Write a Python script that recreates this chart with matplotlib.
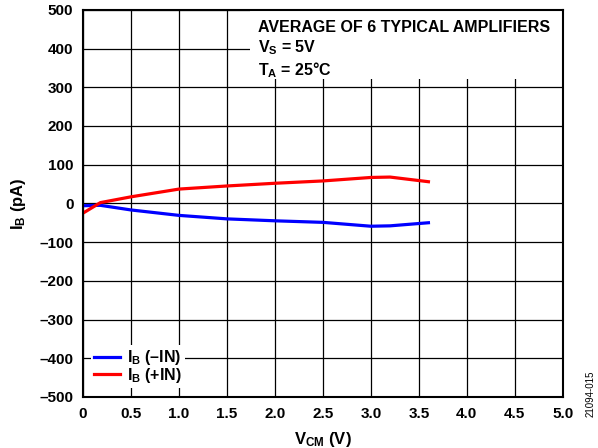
import matplotlib
matplotlib.use("Agg")
import matplotlib.pyplot as plt
import numpy as np

plt.rcParams["font.family"] = ["Liberation Sans", "DejaVu Sans"]
plt.rcParams["font.weight"] = "bold"
plt.rcParams["mathtext.fontset"] = "custom"
plt.rcParams["mathtext.rm"] = "Liberation Sans:bold"
plt.rcParams["mathtext.bf"] = "Liberation Sans:bold"
plt.rcParams["mathtext.it"] = "Liberation Sans:bold"

# V_CM (V)
vcm = [0.0, 0.18, 0.5, 1.0, 1.5, 2.0, 2.5, 3.0, 3.2, 3.6]
ib_neg = [-6, -5, -17, -31, -40, -45, -49, -59, -58, -50]
ib_pos = [-25, 2, 17, 37, 45, 52, 58, 67, 68, 56]

xticks = np.arange(0, 5.01, 0.5)
yticks = np.arange(-500, 501, 100)

fig = plt.figure(figsize=(5.98, 4.48), dpi=100)
ax = fig.add_axes([0.139, 0.114, 0.802, 0.864])

ax.plot(vcm, ib_neg, color="#0000ff", linewidth=2.3, label=r"$\mathregular{I_B}$ (–IN)", zorder=3)
ax.plot(vcm, ib_pos, color="#ff0000", linewidth=2.3, label=r"$\mathregular{I_B}$ (+IN)", zorder=3)

ax.set_xlim(0, 5)
ax.set_ylim(-500, 500)
ax.set_xticks(xticks)
ax.set_yticks(yticks)
ax.set_xticklabels(["0"] + [f"{v:.1f}" for v in xticks[1:]], fontsize=11, fontweight="bold")
ax.set_yticklabels([f"{v:d}".replace("-", "–") for v in yticks], fontsize=11, fontweight="bold")
ax.tick_params(length=0, pad=7)
ax.grid(True, color="black", linewidth=0.9)
for s in ax.spines.values():
    s.set_linewidth(1.5)
    s.set_zorder(6)

ax.set_xlabel(r"$\mathregular{V_{CM}}$ (V)", fontsize=12, fontweight="bold", labelpad=7)
ax.set_ylabel(r"$\mathregular{I_B}$ (pA)", fontsize=12, fontweight="bold", labelpad=8)

# white patch behind the notes, reaching the right spine
ax.add_patch(plt.Rectangle((0.348, 0.822), 0.652, 0.178, transform=ax.transAxes,
                           facecolor="white", edgecolor="none", zorder=2.6))
ax.text(0.365, 0.973,
        "AVERAGE OF 6 TYPICAL AMPLIFIERS\n" + r"$\mathregular{V_S}$ = 5V" + "\n" + r"$\mathregular{T_A}$ = 25°C",
        transform=ax.transAxes, ha="left", va="top", fontsize=11.5, fontweight="bold",
        linespacing=1.2, zorder=4)

leg = ax.legend(loc="lower left", bbox_to_anchor=(0.0, 0.003), frameon=True, fancybox=False,
                edgecolor="none", framealpha=1, fontsize=11.5, handlelength=1.6,
                borderpad=0.2, labelspacing=-0.1, handletextpad=0.45)
leg.set_zorder(5)

fig.text(0.987, 0.12, "21094-015", rotation=90, fontsize=7, fontweight="normal",
         ha="center", va="center")

fig.savefig("out.png", dpi=100)
